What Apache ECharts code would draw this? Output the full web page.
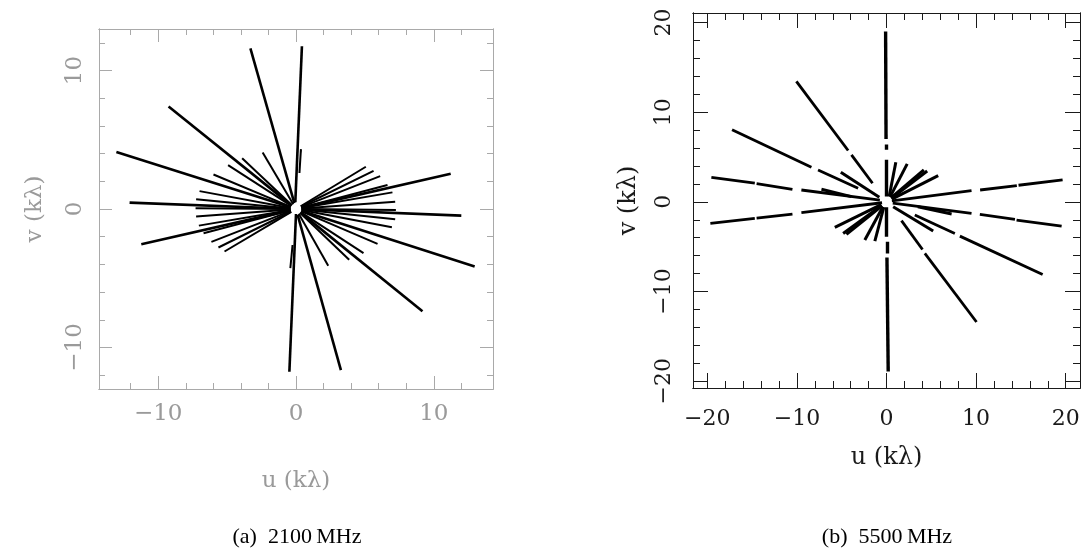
<!DOCTYPE html>
<html>
<head>
<meta charset="utf-8">
<script src="https://cdn.jsdelivr.net/npm/echarts@6/dist/echarts.min.js"></script>
<style>
html, body { margin: 0; padding: 0; background: #fff; }
#chart { width: 1089px; height: 556px; }
</style>
</head>
<body>
<div id="chart"></div>
<script>
// ---- data (kλ) ----
// panel (a) 2100 MHz : [u_outer, v_outer, u_inner, v_inner]
var longA = [
  [-3.31, 11.60, -0.12, 0.43],
  [0.43, 11.75, -0.05, 0.50],
  [-9.25, 7.41, -0.35, 0.28],
  [-13.04, 4.12, -0.43, 0.14],
  [-12.08, 0.46, -0.45, 0.02],
  [-11.23, -2.54, -0.44, -0.10],
  [3.26, -11.63, 0.12, -0.43],
  [-0.48, -11.75, 0.00, -0.36],
  [9.18, -7.39, 0.35, -0.28],
  [12.97, -4.15, 0.43, -0.14],
  [12.00, -0.48, 0.45, -0.02],
  [11.23, 2.54, 0.44, 0.10]
];
var shortA = [
  [0.36, 4.32, 0.25, 2.60],
  [-0.41, -4.27, -0.25, -2.60]
];
var medA = [
  [-2.42, 4.08, -0.20, 0.34],
  [-3.91, 3.67, -0.29, 0.27],
  [-4.93, 3.17, -0.34, 0.22],
  [-5.99, 2.49, -0.37, 0.15],
  [-7.00, 1.29, -0.39, 0.07],
  [-7.25, 0.70, -0.40, 0.04],
  [-7.29, 0.05, -0.40, 0.00],
  [-7.25, -0.55, -0.40, -0.03],
  [-7.05, -1.20, -0.39, -0.07],
  [-6.71, -1.75, -0.39, -0.10],
  [-6.14, -2.37, -0.37, -0.14],
  [-5.63, -2.78, -0.36, -0.18],
  [-5.19, -3.07, -0.34, -0.20],
  [5.07, 3.05, 0.34, 0.20],
  [5.63, 2.76, 0.36, 0.18],
  [6.11, 2.37, 0.37, 0.14],
  [6.64, 1.73, 0.39, 0.10],
  [7.00, 1.20, 0.39, 0.07],
  [7.20, 0.53, 0.40, 0.03],
  [7.25, -0.07, 0.40, 0.00],
  [7.20, -0.74, 0.40, -0.04],
  [6.96, -1.32, 0.39, -0.07],
  [5.92, -2.52, 0.37, -0.15],
  [4.90, -3.19, 0.34, -0.22],
  [3.86, -3.67, 0.29, -0.27],
  [2.34, -4.10, 0.20, -0.34]
];

// panel (b) 5500 MHz : pieces between flagged gaps [u1, v1, u2, v2]
var longB = [
  [-10.06, 13.43, -4.28, 5.72], [-3.91, 5.23, -1.56, 2.07],
  [10.05, -13.39, 4.28, -5.75], [4.02, -5.31, 1.67, -2.10],
  [-17.24, 8.03, -8.38, 3.85], [-7.64, 3.56, -3.17, 1.51],
  [17.43, -8.10, 8.19, -3.82], [7.63, -3.52, 3.16, -1.47],
  [-19.55, 2.74, -14.70, 2.08], [-14.50, 2.04, -10.50, 1.40], [-9.50, 1.32, -0.74, 0.20],
  [19.55, -2.70, 14.52, -2.03], [14.34, -1.96, 10.42, -1.39], [9.49, -1.28, 0.70, -0.15],
  [-19.66, -2.40, -14.70, -1.84], [-14.50, -1.81, -10.50, -1.36], [-9.50, -1.21, -0.50, -0.10],
  [19.66, 2.44, 14.74, 1.85], [14.55, 1.82, 10.45, 1.32], [9.49, 1.25, 0.60, 0.10]
];
var vertB = [
  [-0.10, 19.00, -0.05, 7.00], [-0.04, 6.40, -0.03, 5.80], [-0.02, 4.70, 0.00, 0.60],
  [0.00, -0.60, 0.02, -3.90], [0.03, -4.45, 0.04, -5.75], [0.05, -6.20, 0.19, -18.90]
];
var shortB = [
  [-5.10, 3.30, -0.80, 0.50], [5.21, -3.26, 0.74, -0.54],
  [-7.26, 1.40, -3.91, 0.58], [7.27, -1.35, 3.50, -0.55],
  [1.04, 4.41, 0.30, 0.60], [2.31, 4.23, 0.40, 0.55], [4.17, 3.56, 0.50, 0.45],
  [4.54, 3.44, 0.55, 0.40], [5.77, 2.92, 0.60, 0.30],
  [-1.30, -4.38, -0.30, -0.60], [-2.42, -4.26, -0.40, -0.55], [-4.47, -3.63, -0.50, -0.45],
  [-4.84, -3.52, -0.55, -0.40], [-5.77, -2.85, -0.60, -0.30]
];

// ticks and labels
var minorTicksA = [-12, -10, -8, -6, -4, -2, 0, 2, 4, 6, 8, 10, 12];
var majorTicksA = [-10, 0, 10];
var minorTicksB = [-20, -18, -16, -14, -12, -10, -8, -6, -4, -2, 0, 2, 4, 6, 8, 10, 12, 14, 16, 18, 20];
var majorTicksB = [-20, -10, 0, 10, 20];
var rangeUA = [-14.3, 14.3], rangeVA = [-13, 13];
var rangeUB = [-21.6, 21.6], rangeVB = [-20.75, 21.05];

var GRAY = '#a9a9a9';
var GRAY_TEXT = '#9a9a9a';
var INK = '#1a1a1a';
var FONT = 'DejaVu Serif';

function segs(list) {
  return list.map(function (s) { return { coords: [[s[0], s[1]], [s[2], s[3]]] }; });
}

function axis(grid, pos, range, color, ticks, len, labels, extra) {
  var a = {
    type: 'value', gridIndex: grid, position: pos, min: range[0], max: range[1], offset: 0,
    axisLine: { show: true, onZero: false, lineStyle: { color: color, width: 1 } },
    axisTick: { show: true, inside: true, length: len, customValues: ticks, lineStyle: { color: color, width: 1 } },
    axisLabel: { show: false },
    splitLine: { show: false }
  };
  if (labels) {
    a.axisLabel = {
      show: true, customValues: labels,
      formatter: function (v) { return String(v).replace('-', '\u2212'); }
    };
  }
  return Object.assign(a, extra || {});
}

var dom = document.getElementById('chart');
var chart = echarts.init(dom, null, { renderer: 'canvas' });

var labA = { color: GRAY_TEXT, fontFamily: FONT, fontSize: 23 };
var labB = { color: INK, fontFamily: FONT, fontSize: 22 };

var xAxes = [
  axis(0, 'bottom', rangeUA, GRAY, minorTicksA, 6, majorTicksA, {
    name: 'u (k\u03bb)', nameLocation: 'middle', nameGap: 81,
    nameTextStyle: { color: GRAY_TEXT, fontFamily: FONT, fontSize: 23 }
  }),
  axis(0, 'top', rangeUA, GRAY, minorTicksA, 6),
  axis(0, 'bottom', rangeUA, GRAY, majorTicksA, 13),
  axis(0, 'top', rangeUA, GRAY, majorTicksA, 13),
  axis(1, 'bottom', rangeUB, INK, minorTicksB, 7, majorTicksB, {
    name: 'u (k\u03bb)', nameLocation: 'middle', nameGap: 58,
    nameTextStyle: { color: INK, fontFamily: FONT, fontSize: 24 }
  }),
  axis(1, 'top', rangeUB, INK, minorTicksB, 7),
  axis(1, 'bottom', rangeUB, INK, majorTicksB, 15),
  axis(1, 'top', rangeUB, INK, majorTicksB, 15)
];
Object.assign(xAxes[0].axisLabel, labA, { margin: 14 });
Object.assign(xAxes[4].axisLabel, labB, { margin: 20 });

var yAxes = [
  axis(0, 'left', rangeVA, GRAY, minorTicksA, 6, majorTicksA, {
    name: 'v (k\u03bb)', nameLocation: 'middle', nameGap: 52,
    nameTextStyle: { color: GRAY_TEXT, fontFamily: FONT, fontSize: 23 }
  }),
  axis(0, 'right', rangeVA, GRAY, minorTicksA, 6),
  axis(0, 'left', rangeVA, GRAY, majorTicksA, 13),
  axis(0, 'right', rangeVA, GRAY, majorTicksA, 13),
  axis(1, 'left', rangeVB, INK, minorTicksB, 7, majorTicksB, {
    name: 'v (k\u03bb)', nameLocation: 'middle', nameGap: 52,
    nameTextStyle: { color: INK, fontFamily: FONT, fontSize: 24 }
  }),
  axis(1, 'right', rangeVB, INK, minorTicksB, 7),
  axis(1, 'left', rangeVB, INK, majorTicksB, 15),
  axis(1, 'right', rangeVB, INK, majorTicksB, 15)
];
Object.assign(yAxes[0].axisLabel, labA, { margin: 12, rotate: 90 });
Object.assign(yAxes[4].axisLabel, labB, { margin: 18, rotate: 90 });

function trackSeries(data, xi, yi, width) {
  return {
    type: 'lines', coordinateSystem: 'cartesian2d', xAxisIndex: xi, yAxisIndex: yi,
    silent: true, polyline: false,
    lineStyle: { color: '#000', width: width, opacity: 1, curveness: 0 },
    data: segs(data)
  };
}

var option = {
  animation: false,
  backgroundColor: '#fff',
  grid: [
    { left: 99, top: 29, width: 394, height: 360 },
    { left: 693, top: 13, width: 387, height: 375 }
  ],
  xAxis: xAxes,
  yAxis: yAxes,
  series: [
    trackSeries(medA, 0, 0, 2.0),
    trackSeries(longA, 0, 0, 2.6),
    trackSeries(shortA, 0, 0, 2.0),
    trackSeries(longB, 4, 4, 2.8),
    trackSeries(shortB, 4, 4, 3),
    trackSeries(vertB, 4, 4, 3.4)
  ],
  graphic: [
    {
      type: 'text', x: 297, y: 537,
      style: { text: '(a)  2100\u2009MHz', fill: '#000', font: '22px "Liberation Serif"', textAlign: 'center', textVerticalAlign: 'middle' }
    },
    {
      type: 'text', x: 887, y: 537,
      style: { text: '(b)  5500\u2009MHz', fill: '#000', font: '22px "Liberation Serif"', textAlign: 'center', textVerticalAlign: 'middle' }
    }
  ]
};

chart.setOption(option);
</script>
</body>
</html>
